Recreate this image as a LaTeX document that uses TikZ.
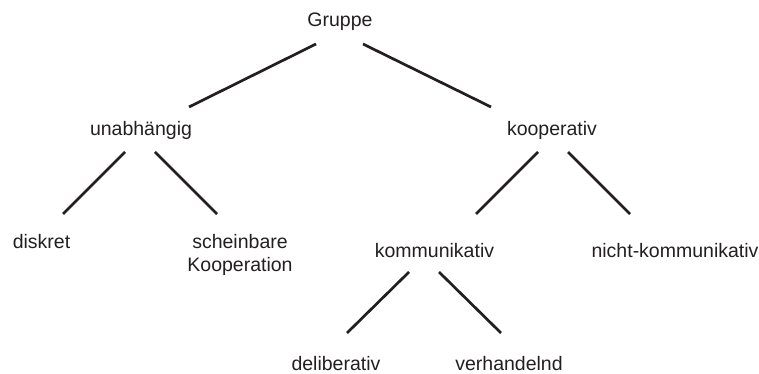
\documentclass[tikz,border=0pt]{standalone}
\usepackage{fontspec}
\setmainfont{Liberation Sans}
\definecolor{ink}{HTML}{231F20}
\begin{document}
\begin{tikzpicture}[x=1pt,y=1pt,
  label/.style={anchor=base,inner sep=0pt,text=ink,font=\fontsize{19.5}{23}\selectfont},
  branch/.style={draw=ink,line width=2.7pt}]
\useasboundingbox (0,0) rectangle (759,374);

% category labels
\node[label] (gruppe)  at (340,347)   {Gruppe};
\node[label] (unabh)   at (141,238)   {unabhängig};
\node[label] (koop)    at (552,238)   {kooperativ};
\node[label] (diskret) at (41.5,125)  {diskret};
\node[label] (schein)  at (240,125)
  {\begin{tabular}[t]{@{}c@{}}scheinbare\\Kooperation\end{tabular}};
\node[label] (komm)    at (434.5,116) {kommunikativ};
\node[label] (nicht)   at (675,116)   {nicht-kommunikativ};
\node[label] (delib)   at (336,3)     {deliberativ};
\node[label] (verh)    at (509,3)     {verhandelnd};

% free ends of the branches, just below a parent and above a child
\coordinate (gruppe-l) at (316,330);
\coordinate (gruppe-r) at (363,330);
\coordinate (unabh-t)  at (189,267);
\coordinate (koop-t)   at (491,267);
\coordinate (unabh-l)  at (125,222);
\coordinate (unabh-r)  at (155,222);
\coordinate (diskret-t) at (63,160);
\coordinate (schein-t) at (217,160);
\coordinate (koop-l)   at (538,222);
\coordinate (koop-r)   at (568,222);
\coordinate (komm-t)   at (476,160);
\coordinate (nicht-t)  at (630,160);
\coordinate (komm-l)   at (409,102);
\coordinate (komm-r)   at (439,102);
\coordinate (delib-t)  at (347,41);
\coordinate (verh-t)   at (501,41);

% branches
\draw[branch] (gruppe-l) -- (unabh-t);
\draw[branch] (gruppe-r) -- (koop-t);
\draw[branch] (unabh-l) -- (diskret-t);
\draw[branch] (unabh-r) -- (schein-t);
\draw[branch] (koop-l) -- (komm-t);
\draw[branch] (koop-r) -- (nicht-t);
\draw[branch] (komm-l) -- (delib-t);
\draw[branch] (komm-r) -- (verh-t);
\end{tikzpicture}
\end{document}
